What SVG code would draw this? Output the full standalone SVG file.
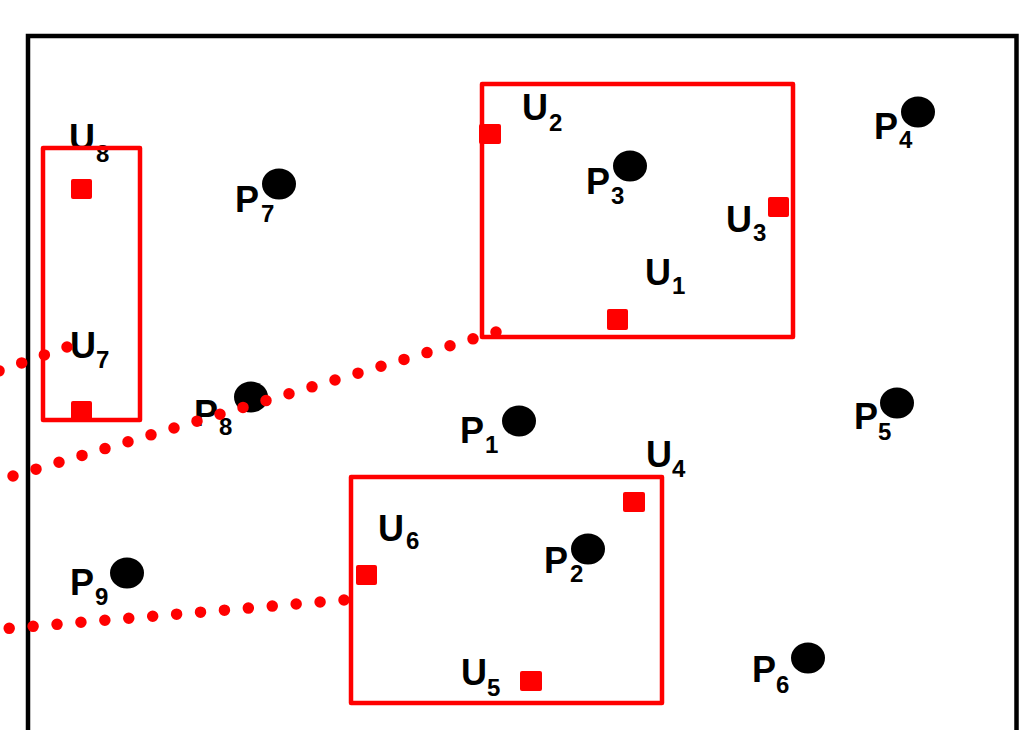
<svg xmlns="http://www.w3.org/2000/svg" width="1019" height="730" viewBox="0 0 1019 730">
  <style>
    .frame { fill: none; stroke: #000; stroke-width: 4.5; }
    .box { fill: none; stroke: #ff0000; stroke-width: 4.5; stroke-linejoin: round; }
    .pt { fill: #000; }
    .sq { fill: #ff0000; }
    .lbl { font-family: "Liberation Sans", Arial, sans-serif; font-weight: bold; font-size: 36px; fill: #000; }
    .sub { font-size: 24px; }
    .dots { fill: none; stroke: #ff0000; stroke-width: 11.5; stroke-linecap: round; stroke-dasharray: 0 24; }
  </style>
  <rect width="1019" height="730" fill="#fff"/>
  <rect class="frame" x="28" y="36" width="988.5" height="720"/>

  <g id="labels-under">
    <g id="P1"><ellipse class="pt" cx="519" cy="421" rx="17" ry="15.5"/><text class="lbl" x="460" y="443">P<tspan class="sub" x="485" y="453">1</tspan></text></g>
    <g id="P2"><ellipse class="pt" cx="588" cy="549" rx="17" ry="15.5"/><text class="lbl" x="544" y="573">P<tspan class="sub" x="570" y="582">2</tspan></text></g>
    <g id="P3"><ellipse class="pt" cx="630" cy="166" rx="17" ry="15.5"/><text class="lbl" x="586" y="194">P<tspan class="sub" x="611" y="204">3</tspan></text></g>
    <g id="P4"><ellipse class="pt" cx="918" cy="112" rx="17" ry="15.5"/><text class="lbl" x="874" y="139">P<tspan class="sub" x="899" y="148">4</tspan></text></g>
    <g id="P5"><ellipse class="pt" cx="897" cy="403" rx="17" ry="15.5"/><text class="lbl" x="854" y="429">P<tspan class="sub" x="878" y="440">5</tspan></text></g>
    <g id="P6"><ellipse class="pt" cx="808" cy="658" rx="17" ry="15.5"/><text class="lbl" x="752" y="682">P<tspan class="sub" x="776" y="693">6</tspan></text></g>
    <g id="P7"><ellipse class="pt" cx="279" cy="184" rx="17" ry="15.5"/><text class="lbl" x="235" y="212">P<tspan class="sub" x="261" y="222">7</tspan></text></g>
    <g id="P8"><ellipse class="pt" cx="251" cy="397" rx="17" ry="15.5"/><text class="lbl" x="194" y="426">P<tspan class="sub" x="219" y="435">8</tspan></text></g>
    <g id="P9"><ellipse class="pt" cx="127" cy="573" rx="17" ry="15.5"/><text class="lbl" x="70" y="595">P<tspan class="sub" x="95" y="605">9</tspan></text></g>
    <g id="U1-label"><text class="lbl" x="645" y="285">U<tspan class="sub" x="672" y="294">1</tspan></text></g>
    <g id="U2-label"><text class="lbl" x="522" y="120">U<tspan class="sub" x="549" y="131">2</tspan></text></g>
    <g id="U3-label"><text class="lbl" x="726" y="232">U<tspan class="sub" x="753" y="241">3</tspan></text></g>
    <g id="U4-label"><text class="lbl" x="646" y="467">U<tspan class="sub" x="672" y="477">4</tspan></text></g>
    <g id="U5-label"><text class="lbl" x="461" y="685">U<tspan class="sub" x="487" y="696">5</tspan></text></g>
    <g id="U6-label"><text class="lbl" x="378" y="541">U<tspan class="sub" x="406" y="549">6</tspan></text></g>
    <g id="U7-label"><text class="lbl" x="70" y="358">U<tspan class="sub" x="96" y="368">7</tspan></text></g>
    <g id="U8-label"><text class="lbl" x="69" y="150">U<tspan class="sub" x="96" y="162">8</tspan></text></g>
  </g>

  <g id="regions">
    <rect id="region-U7U8" class="box" x="43" y="148" width="97" height="272"/>
    <rect id="region-U1U3" class="box" x="482" y="84" width="311" height="253"/>
    <rect id="region-U4U6" class="box" x="351" y="477" width="311" height="226"/>
  </g>

  <g id="units">
    <rect id="U1" class="sq" x="607" y="309" width="21" height="21" rx="2"/>
    <rect id="U2" class="sq" x="479" y="124" width="22" height="20" rx="2"/>
    <rect id="U3" class="sq" x="768" y="197" width="21" height="20" rx="2"/>
    <rect id="U4" class="sq" x="623" y="492" width="22" height="20" rx="2"/>
    <rect id="U5" class="sq" x="520" y="671" width="22" height="20" rx="2"/>
    <rect id="U6" class="sq" x="356" y="565" width="21" height="20" rx="2"/>
    <rect id="U7" class="sq" x="71" y="401" width="21" height="20" rx="2"/>
    <rect id="U8" class="sq" x="71" y="179" width="21" height="20" rx="2"/>
  </g>

  <g id="connectors">
    <line class="dots" x1="67" y1="347" x2="-30" y2="381"/>
    <line class="dots" x1="496" y1="332" x2="13" y2="476"/>
    <line class="dots" x1="344" y1="600" x2="-10" y2="630"/>
  </g>
</svg>
